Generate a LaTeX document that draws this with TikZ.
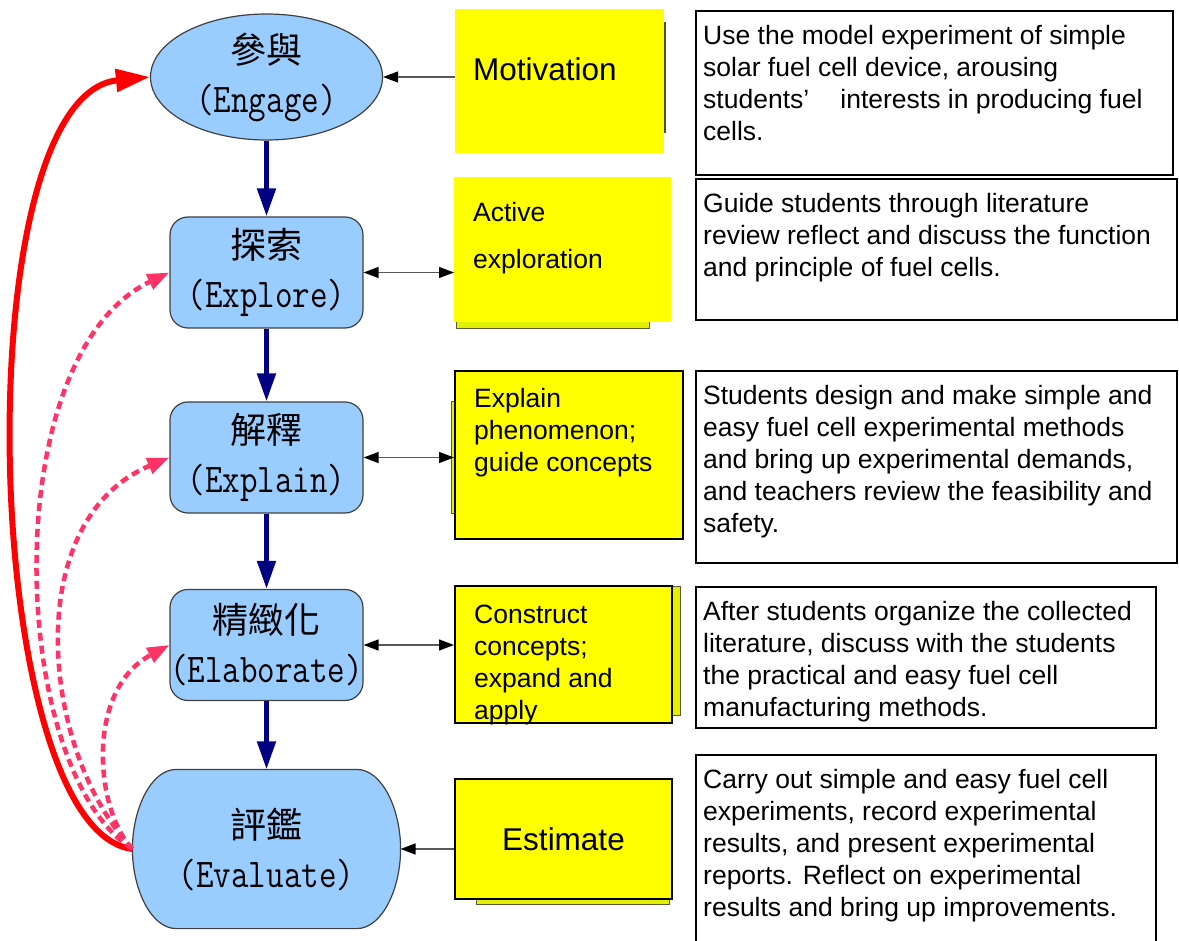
\documentclass[tikz,border=0pt]{standalone}
\usepackage{fontspec}
\setmainfont{Liberation Sans}
\newfontfamily\cjk{Noto Sans CJK TC}
\usepackage{tikz}
\usetikzlibrary{arrows.meta,shapes.geometric,backgrounds}

\definecolor{phaseblue}{HTML}{99CCFF}
\definecolor{flownavy}{HTML}{000080}
\definecolor{loopred}{HTML}{FF0000}
\definecolor{looppink}{HTML}{FF3366}
\definecolor{notefill}{HTML}{FFFF00}
\definecolor{shadefill}{HTML}{E2F000}
\definecolor{shadeline}{HTML}{5A5A3C}

\newcommand{\zh}[1]{{\cjk\fontsize{36}{49}\selectfont #1}}
\newcommand{\enlabel}[1]{\scalebox{1}[1.2]{#1}}

\tikzset{
  phasebody/.style={fill=phaseblue, draw=black!75, line width=1.2pt},
  phase/.style={phasebody, align=center, inner sep=0pt,
                font=\ttfamily\fontsize{34}{49}\selectfont},
  stage/.style={rectangle, rounded corners=18pt, minimum width=193pt, minimum height=111pt},
  note/.style={fill=notefill, inner sep=0pt, anchor=north west},
  notetext/.style={inner sep=0pt, anchor=north west, align=left,
                   font=\fontsize{26.5}{32}\selectfont},
  shade/.style={fill=shadefill, draw=shadeline, line width=1pt},
  descbox/.style={draw=black, line width=2pt, inner sep=0pt, anchor=north west},
  desctext/.style={inner sep=0pt, anchor=north west, align=left,
                   font=\fontsize{26.5}{32}\selectfont},
  backlink/.style={->, >={Triangle[length=22pt,width=16pt]}, draw=looppink,
                   line width=4.5pt, dash pattern=on 8pt off 5pt}
}

\begin{document}
\begin{tikzpicture}[x=1pt, y=-1pt]
\useasboundingbox (0,0) rectangle (1179,941);
\clip (0,0) rectangle (1179,941);

% the five phases
\begin{scope}[every node/.style={phase}]
    \node[ellipse, minimum width=232pt, minimum height=126pt] (engage) at (266.5,77) {\zh{參與}\\\enlabel{(Engage)}};
    \node[stage] (explore) at (266.5,272.5) {\zh{探索}\\\enlabel{(Explore)}};
    \node[stage] (explain) at (266.5,457.5) {\zh{解釋}\\\enlabel{(Explain)}};
    \node[stage] (elaborate) at (266.5,645) {\zh{精緻化}\\\enlabel{(Elaborate)}};
    \node[draw=none, fill=none, minimum width=267pt, minimum height=158pt] (evaluate) at (266.5,849) {\zh{評鑑}\\\enlabel{(Evaluate)}};
\end{scope}

\begin{scope}[on background layer]
    \draw[phasebody] ([shift={(44,0)}]evaluate.north west) -- ([shift={(-44,0)}]evaluate.north east)
        .. controls ([shift={(-18,0)}]evaluate.north east) and ([shift={(0,-39)}]evaluate.east) .. (evaluate.east)
        .. controls ([shift={(0,39)}]evaluate.east) and ([shift={(-18,0)}]evaluate.south east) .. ([shift={(-44,0)}]evaluate.south east)
        -- ([shift={(44,0)}]evaluate.south west)
        .. controls ([shift={(18,0)}]evaluate.south west) and ([shift={(0,39)}]evaluate.west) .. (evaluate.west)
        .. controls ([shift={(0,-39)}]evaluate.west) and ([shift={(18,0)}]evaluate.north west) .. cycle;
\end{scope}

% shadows behind the notes
\filldraw[notefill, draw=black!70, line width=1.2pt] (500,23) rectangle (665,132);
\filldraw[shade] (456,190) rectangle (649,329);
\filldraw[shade] (451,402) rectangle (600,513);
\filldraw[shade] (470,586) rectangle (680,715);
\filldraw[shade] (476,790) rectangle (669,904);

% yellow notes
\node[note, minimum width=209pt, minimum height=144pt] (motiv) at (455,9) {};
\node[note, minimum width=217pt, minimum height=145pt] (active) at (454,177) {};
\node[note, draw=black, line width=2pt, minimum width=228pt, minimum height=168pt] (explainb) at (454,370) {};
\node[note, draw=black, line width=2pt, minimum width=217pt, minimum height=137pt] (construct) at (454,585) {};
\node[note, draw=black, line width=2pt, minimum width=217pt, minimum height=120pt,
      font=\fontsize{31.5}{38}\selectfont] (estimate) at (454,778) {Estimate};

\node[notetext, font=\fontsize{31.5}{38}\selectfont] (motivtxt) at ([shift={(18,44.4)}]motiv.north west) {\strut Motivation};
\node[notetext, font=\fontsize{26.5}{47}\selectfont] (activetxt) at ([shift={(19,11)}]active.north west) {\strut Active\\exploration};
\node[notetext] (explaintxt) at ([shift={(20,14.6)}]explainb.north west) {\strut Explain\\phenomenon;\\guide concepts};
\node[notetext] (constructtxt) at ([shift={(20,15.6)}]construct.north west) {\strut Construct\\concepts;\\expand and\\apply};

% descriptions
\node[descbox, minimum width=477pt, minimum height=164pt] (d1) at (695,10) {};
\node[descbox, minimum width=481pt, minimum height=141pt] (d2) at (695,178) {};
\node[descbox, minimum width=481pt, minimum height=192pt] (d3) at (695,370) {};
\node[descbox, minimum width=460pt, minimum height=141pt] (d4) at (695,586) {};
\node[descbox, minimum width=460pt, minimum height=200pt] (d5) at (695,754) {};

\node[desctext] (t1) at ([shift={(8,11.6)}]d1.north west) {\strut Use the model experiment of simple\\solar fuel cell device, arousing\\students’\hspace{0.9em} interests in producing fuel\\cells.};
\node[desctext] (t2) at ([shift={(8,11.6)}]d2.north west) {\strut Guide students through literature\\review reflect and discuss the function\\and principle of fuel cells.};
\node[desctext] (t3) at ([shift={(8,11.6)}]d3.north west) {\strut Students design and make simple and\\easy fuel cell experimental methods\\and bring up experimental demands,\\and teachers review the feasibility and\\safety.};
\node[desctext] (t4) at ([shift={(8,11.6)}]d4.north west) {\strut After students organize the collected\\literature, discuss with the students\\the practical and easy fuel cell\\manufacturing methods.};
\node[desctext] (t5) at ([shift={(8,11.6)}]d5.north west) {\strut Carry out simple and easy fuel cell\\experiments, record experimental\\results, and present experimental\\reports. Reflect on experimental\\results and bring up improvements.};

% main flow
\begin{scope}[>={Triangle[length=28pt,width=18pt]},
              every edge/.style={draw=flownavy, line width=5pt}]
    \path[->] (engage) edge (explore);
    \path[->] (explore) edge (explain);
    \path[->] (explain) edge (elaborate);
    \path[->] (elaborate) edge (evaluate);
\end{scope}

% notes to phases
\begin{scope}[>={Triangle[black,length=15pt,width=11pt]},
              every edge/.style={draw=black!65, line width=1.3pt}]
    \path[<-] (engage.east) edge (motiv.west |- engage.east);
    \path[<->] (explore.east) edge (active.west |- explore.east);
    \path[<->] (explain.east) edge (explainb.west |- explain.east);
    \path[<->] (elaborate.east) edge (construct.west |- elaborate.east);
    \path[<-] (evaluate.east) edge (estimate.west |- evaluate.east);
\end{scope}

% feedback loops
\draw[->, >={Triangle[length=34pt,width=22pt]}, draw=loopred, line width=6pt]
    (evaluate.west) .. controls (-20,830) and (-37,96) .. (engage.west);
\draw[backlink] (evaluate.west) .. controls (8,770) and (-5,355) .. (explore.west);
\draw[backlink] (evaluate.west) .. controls (40,750) and (20,520) .. (explain.west);
\draw[backlink] (evaluate.west) .. controls (95,810) and (85,690) .. (elaborate.west);
\end{tikzpicture}
\end{document}
